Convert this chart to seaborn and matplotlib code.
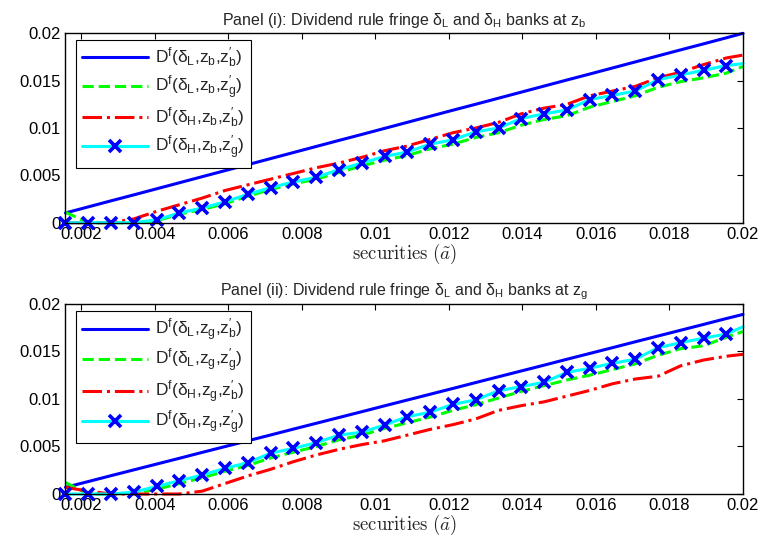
import matplotlib
matplotlib.use("Agg")
import matplotlib.pyplot as plt
import seaborn as sns
from matplotlib.ticker import FuncFormatter, MultipleLocator

sns.set_theme(style="white")
plt.rcParams["font.family"] = ["Liberation Sans", "DejaVu Sans"]
plt.rcParams["mathtext.fontset"] = "custom"
plt.rcParams["mathtext.rm"] = "Liberation Sans"
plt.rcParams["mathtext.it"] = "Liberation Sans"
plt.rcParams["mathtext.bf"] = "Liberation Sans:bold"

# securities grid (last point sits on the right edge of the axes)
securities = [0.00157, 0.00219, 0.00281, 0.00343, 0.00405, 0.00467, 0.00529, 0.00591,
              0.00653, 0.00715, 0.00777, 0.00839, 0.00901, 0.00963, 0.01025, 0.01087,
              0.01149, 0.01211, 0.01273, 0.01335, 0.01397, 0.01459, 0.01521, 0.01583,
              0.01645, 0.01707, 0.01769, 0.01831, 0.01893, 0.01955, 0.02000]

# Panel (i): z_b
p1_L_b = [0.00103, 0.00167, 0.00231, 0.00294, 0.00358, 0.00422, 0.00486, 0.00550,
          0.00613, 0.00677, 0.00741, 0.00805, 0.00869, 0.00932, 0.00996, 0.01060,
          0.01124, 0.01188, 0.01251, 0.01315, 0.01379, 0.01443, 0.01507, 0.01570,
          0.01634, 0.01698, 0.01762, 0.01826, 0.01889, 0.01953, 0.02000]
p1_L_g = [0.0011, 0.0, 0.0, 0.0, 0.0002, 0.0009, 0.0014, 0.0020, 0.0028, 0.0035,
          0.0041, 0.0046, 0.0053, 0.0060, 0.0066, 0.0071, 0.0078, 0.0083, 0.0090,
          0.0095, 0.0103, 0.0109, 0.0113, 0.0122, 0.0128, 0.0134, 0.0143, 0.0149,
          0.0153, 0.0158, 0.0165]
p1_H_b = [0.0, 0.0, 0.0, 0.0004, 0.0012, 0.0019, 0.0026, 0.0034, 0.0040, 0.0046,
          0.0052, 0.0058, 0.0063, 0.0069, 0.0076, 0.0081, 0.0088, 0.0095, 0.0100,
          0.0106, 0.0115, 0.0121, 0.0125, 0.0134, 0.0139, 0.0144, 0.0153, 0.0159,
          0.0167, 0.0174, 0.0177]
p1_H_g = [0.0, 0.0, 0.0, 0.0, 0.0003, 0.00103, 0.00155, 0.0022, 0.0030, 0.0037,
          0.0043, 0.0048, 0.0056, 0.0063, 0.0070, 0.00747, 0.0083, 0.00875, 0.0096,
          0.0100, 0.0110, 0.0115, 0.0119, 0.0130, 0.01345, 0.0139, 0.0151, 0.0156,
          0.0161, 0.0166, 0.0168]

# Panel (ii): z_g
p2_L_b = [0.0007, 0.00131, 0.00193, 0.00254, 0.00315, 0.00376, 0.00438, 0.00499,
          0.0056, 0.00621, 0.00683, 0.00744, 0.00805, 0.00866, 0.00928, 0.00989,
          0.0105, 0.01111, 0.01173, 0.01234, 0.01295, 0.01356, 0.01418, 0.01479,
          0.0154, 0.01602, 0.01663, 0.01724, 0.01785, 0.01847, 0.0189]
p2_L_g = [0.0012, 0.0, 0.0, 0.0001, 0.0005, 0.0011, 0.0017, 0.0024, 0.0030, 0.0038,
          0.0044, 0.0050, 0.0057, 0.0062, 0.0069, 0.0075, 0.0081, 0.0088, 0.0094,
          0.0101, 0.0108, 0.0114, 0.0120, 0.0125, 0.0131, 0.0137, 0.0146, 0.0153,
          0.0156, 0.0165, 0.0171]
p2_H_b = [0.0007, 0.0003, 0.0, 0.0, 0.0, 0.0, 0.0003, 0.0011, 0.0019, 0.0026,
          0.0034, 0.0041, 0.0047, 0.0052, 0.0056, 0.0062, 0.0068, 0.0073, 0.0079,
          0.0088, 0.0093, 0.0097, 0.0103, 0.0109, 0.0116, 0.0121, 0.0124, 0.0135,
          0.0141, 0.0145, 0.0147]
p2_H_g = [0.0, 0.0, 0.0, 0.0002, 0.0008, 0.0014, 0.0020, 0.0027, 0.0033, 0.0043,
          0.0048, 0.0054, 0.0062, 0.0065, 0.00726, 0.00814, 0.0086, 0.00944, 0.0099,
          0.01087, 0.0113, 0.01176, 0.0128, 0.01323, 0.01376, 0.01418, 0.0154,
          0.01593, 0.0164, 0.01684, 0.0176]


def dlabel(delta, z, zp):
    return (r"D$^\mathrm{f}$($\delta_\mathrm{%s}$,z$_\mathrm{%s}$,$\mathrm{z}^{\prime}_\mathrm{%s}$)"
            % (delta, z, zp))


labels_b = [dlabel("L", "b", "b"), dlabel("L", "b", "g"),
            dlabel("H", "b", "b"), dlabel("H", "b", "g")]
labels_g = [dlabel("L", "g", "b"), dlabel("L", "g", "g"),
            dlabel("H", "g", "b"), dlabel("H", "g", "g")]

STYLES = [("#0000ff", "-"), ("#00ff00", "--"), ("#ff0000", "-."), ("#00ffff", "-")]


def draw_panel(ax, series, labels, title):
    for i, (y, lab, (col, ls)) in enumerate(zip(series, labels, STYLES)):
        kw = dict(color=col, linestyle=ls, linewidth=2.2, clip_on=False, label=lab)
        if i == 3:
            kw.update(marker="x", markersize=8, markeredgewidth=2.6,
                      markeredgecolor="#0000ff", markevery=slice(0, len(y) - 1))
        sns.lineplot(x=securities, y=y, ax=ax, **kw)

    ax.set_xlim(0.00157, 0.02)
    ax.set_ylim(0, 0.02)
    ax.xaxis.set_major_locator(MultipleLocator(0.002))
    ax.yaxis.set_major_locator(MultipleLocator(0.005))
    fmt = FuncFormatter(lambda v, p: f"{v:g}")
    ax.xaxis.set_major_formatter(fmt)
    ax.yaxis.set_major_formatter(fmt)
    ax.tick_params(direction="in", top=True, right=True, length=4, width=0.8,
                   labelsize=12, colors="black")
    ax.tick_params(axis="x", pad=3)
    for s in ax.spines.values():
        s.set_color("black")
        s.set_linewidth(1.0)
    ax.set_title(title, fontsize=11.5, pad=6)
    ax.set_xlabel(r"$\mathrm{securities}\ (\tilde{a})$", fontsize=13.5, labelpad=0,
                  math_fontfamily="cm")
    ax.set_ylabel("")
    ax.legend(loc="upper left", bbox_to_anchor=(0.0155, 0.965), borderaxespad=0,
              fancybox=False, edgecolor="black", framealpha=1, fontsize=12.5,
              handlelength=3.8, handletextpad=0.4, labelspacing=0.2, borderpad=0.35)
    ax.get_legend().get_frame().set_linewidth(0.8)


fig = plt.figure(figsize=(7.64, 5.40), dpi=100)
ax1 = fig.add_axes([0.0857, 0.5876, 0.8868, 0.3507])
ax2 = fig.add_axes([0.0857, 0.0852, 0.8868, 0.3519])

draw_panel(ax1, [p1_L_b, p1_L_g, p1_H_b, p1_H_g], labels_b,
           r"Panel (i): Dividend rule fringe $\delta_\mathrm{L}$ and $\delta_\mathrm{H}$ banks at $\mathrm{z_b}$")
draw_panel(ax2, [p2_L_b, p2_L_g, p2_H_b, p2_H_g], labels_g,
           r"Panel (ii): Dividend rule fringe $\delta_\mathrm{L}$ and $\delta_\mathrm{H}$ banks at $\mathrm{z_g}$")

fig.savefig("out.png", dpi=100)
plt.close(fig)
